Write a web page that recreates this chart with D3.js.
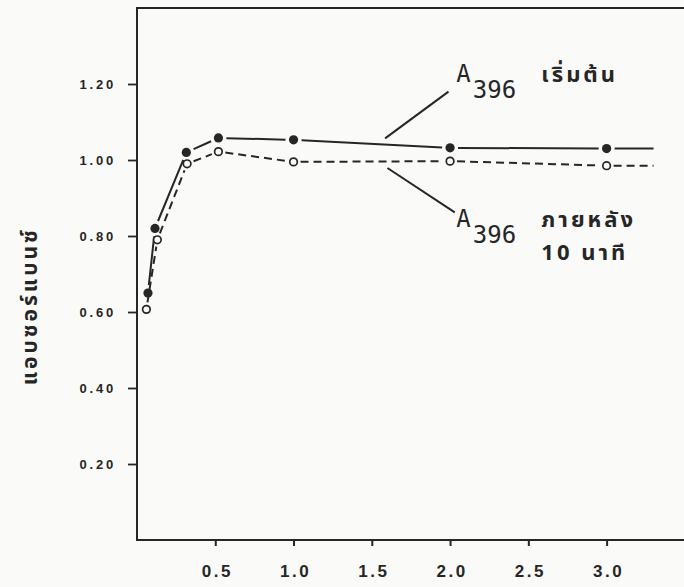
<!DOCTYPE html>
<html>
<head>
<meta charset="utf-8">
<script src="https://cdn.jsdelivr.net/npm/d3@7"></script>
<style>
  html, body { margin: 0; padding: 0; background: #fafaf8; }
  svg { display: block; }
</style>
</head>
<body>
<svg id="chart" width="684" height="587"></svg>
<script>
// Absorbance readings: initial (filled) and after 10 minutes (open)
const initialX = [0.07, 0.115, 0.315, 0.52, 1.0, 2.0, 3.0];
const initialY = [0.65, 0.82, 1.02, 1.058, 1.053, 1.032, 1.03];
const laterX   = [0.06, 0.13, 0.32, 0.52, 1.0, 2.0, 3.0];
const laterY   = [0.607, 0.79, 0.99, 1.022, 0.995, 0.997, 0.985];
const tailX = 3.3;   // each trace runs on flat past its last reading

const xTicks = [0.5, 1.0, 1.5, 2.0, 2.5, 3.0];
const yTicks = [0.2, 0.4, 0.6, 0.8, 1.0, 1.2];
const yTitle = "แอบซอร์แบนซ์";

// Callout labels with leader lines (data coordinates)
const callouts = [
  { sub: "396", text: ["เริ่มต้น"], at: [2.04, 1.205], from: [1.99, 1.18], to: [1.585, 1.057] },
  { sub: "396", text: ["ภายหลัง", "10 นาที"], at: [2.04, 0.824], from: [2.03, 0.862], to: [1.60, 0.979] }
];

const ink = "#262626";
const paper = "#fafaf8";
const svg = d3.select("#chart");
const x = d3.scaleLinear().domain([0, 3.52]).range([137, 688]);
const y = d3.scaleLinear().domain([0, 1.4]).range([540, 8]);

// plot frame
svg.append("rect")
  .attr("x", x(0)).attr("y", y(1.4))
  .attr("width", x(3.52) - x(0)).attr("height", y(0) - y(1.4))
  .attr("fill", "none").attr("stroke", ink).attr("stroke-width", 2);

// axes
const xAxis = d3.axisBottom(x).tickValues(xTicks).tickSize(6).tickPadding(19)
  .tickFormat(d3.format(".1f"));
const gx = svg.append("g").attr("transform", `translate(0,${y(0)})`).call(xAxis);
gx.select(".domain").remove();
gx.selectAll(".tick line").attr("stroke", ink).attr("stroke-width", 2);
gx.selectAll(".tick text")
  .attr("fill", ink).attr("font-family", "Liberation Sans, Arial, sans-serif")
  .attr("font-weight", "bold").attr("font-size", 17).attr("letter-spacing", 2.5)
  .attr("dx", 1.5);

const yAxis = d3.axisLeft(y).tickValues(yTicks).tickSize(9).tickPadding(12)
  .tickFormat(d3.format(".2f"));
const gy = svg.append("g").attr("transform", `translate(${x(0)},0)`).call(yAxis);
gy.select(".domain").remove();
gy.selectAll(".tick line").attr("stroke", ink).attr("stroke-width", 1.8);
gy.selectAll(".tick text")
  .attr("fill", ink).attr("font-family", "Liberation Sans, Arial, sans-serif")
  .attr("font-weight", "bold").attr("font-size", 13).attr("letter-spacing", 2.8);

// y title
svg.append("text")
  .attr("transform", `translate(37,${y(0.615)}) rotate(-90)`)
  .attr("text-anchor", "middle")
  .attr("fill", ink).attr("font-weight", "bold").attr("font-size", 21)
  .attr("letter-spacing", 3)
  .attr("font-family", "Noto Sans Thai, Noto Sans, sans-serif")
  .text(yTitle);

// traces: segments stop short of each marker, as if the pen lifted around it
function trace(xs, ys, dash, gap) {
  const pts = xs.map((v, i) => [x(v), y(ys[i])]);
  pts.push([x(tailX), y(ys[ys.length - 1])]);
  const g = svg.append("g");
  for (let i = 0; i < pts.length - 1; i++) {
    const [x0, y0] = pts[i], [x1, y1] = pts[i + 1];
    const len = Math.hypot(x1 - x0, y1 - y0);
    const ux = (x1 - x0) / len, uy = (y1 - y0) / len;
    const g0 = gap, g1 = (i + 1 === pts.length - 1) ? 0 : gap;
    if (len <= g0 + g1) continue;
    g.append("line")
      .attr("x1", x0 + ux * g0).attr("y1", y0 + uy * g0)
      .attr("x2", x1 - ux * g1).attr("y2", y1 - uy * g1)
      .attr("stroke", ink).attr("stroke-width", 2)
      .attr("stroke-dasharray", dash);
  }
}
trace(initialX, initialY, null, 8);
trace(laterX, laterY, "8,5", 7);

svg.append("g").selectAll("circle")
  .data(initialX.map((v, i) => [v, initialY[i]]))
  .join("circle")
  .attr("cx", d => x(d[0])).attr("cy", d => y(d[1]))
  .attr("r", 4.6).attr("fill", ink);

svg.append("g").selectAll("circle")
  .data(laterX.map((v, i) => [v, laterY[i]]))
  .join("circle")
  .attr("cx", d => x(d[0])).attr("cy", d => y(d[1]))
  .attr("r", 3.8).attr("fill", paper).attr("stroke", ink).attr("stroke-width", 1.7);

// callouts
callouts.forEach(c => {
  svg.append("line")
    .attr("x1", x(c.from[0])).attr("y1", y(c.from[1]))
    .attr("x2", x(c.to[0])).attr("y2", y(c.to[1]))
    .attr("stroke", ink).attr("stroke-width", 2);
  const t = svg.append("text")
    .attr("x", x(c.at[0])).attr("y", y(c.at[1]))
    .attr("fill", ink).attr("font-family", "DejaVu Sans Mono, monospace");
  t.append("tspan").attr("font-size", 24).text("A");
  t.append("tspan").attr("font-size", 24).attr("dx", 2).attr("dy", 16).text(c.sub);
  c.text.forEach((line, k) => {
    svg.append("text")
      .attr("x", x(c.at[0]) + 85).attr("y", y(c.at[1]) + k * 33)
      .attr("fill", ink).attr("font-weight", "bold").attr("font-size", 22)
      .attr("letter-spacing", 3)
      .attr("font-family", "Noto Sans Thai, Noto Sans, sans-serif")
      .text(line);
  });
});
</script>
</body>
</html>
